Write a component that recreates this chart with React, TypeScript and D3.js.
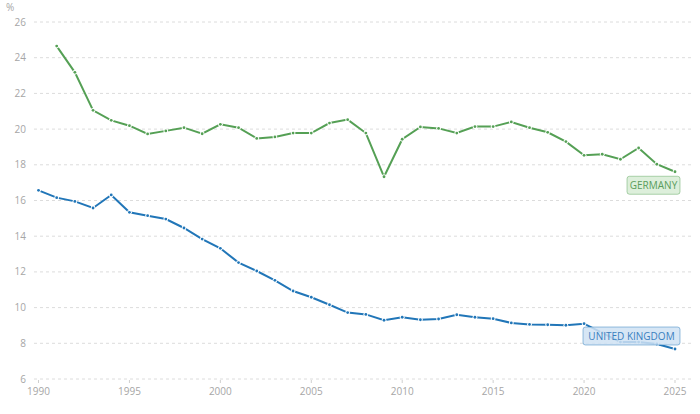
import * as d3 from "d3";
import React from "react";

const years = d3.range(1990, 2026);

// Germany starts in 1991
const germanyYears = d3.range(1991, 2026);
const germanyValues = [
  24.65, 23.18, 21.05, 20.49, 20.19, 19.73, 19.9, 20.08, 19.74, 20.27,
  20.08, 19.48, 19.56, 19.78, 19.78, 20.34, 20.53, 19.78, 17.33, 19.43,
  20.12, 20.04, 19.78, 20.14, 20.14, 20.4, 20.08, 19.82, 19.3, 18.53,
  18.59, 18.31, 18.94, 18.03, 17.61,
];

const ukValues = [
  16.57, 16.16, 15.95, 15.58, 16.31, 15.34, 15.15, 14.96, 14.46, 13.84,
  13.32, 12.52, 12.05, 11.53, 10.93, 10.58, 10.16, 9.72, 9.62, 9.29,
  9.46, 9.32, 9.36, 9.6, 9.46, 9.38, 9.14, 9.06, 9.04, 9.01,
  9.1, 8.58, 8.07, 8.07, 7.96, 7.68,
];

const yTicks = [6, 8, 10, 12, 14, 16, 18, 20, 22, 24, 26];
const xTicks = [1990, 1995, 2000, 2005, 2010, 2015, 2020, 2025];

const GREEN = "#55a055";
const BLUE = "#2176b8";
const FONT = "'Open Sans', 'Noto Sans', sans-serif";

interface Pt {
  year: number;
  value: number;
}

const germany: Pt[] = germanyYears.map((year, i) => ({ year, value: germanyValues[i] }));
const uk: Pt[] = years.map((year, i) => ({ year, value: ukValues[i] }));

const App: React.FC = () => {
  const width = 700;
  const height = 414;

  const x = d3.scaleLinear().domain([1990, 2025]).range([38.5, 675]);
  const y = d3.scaleLinear().domain([6, 26]).range([379, 22]);

  const line = d3
    .line<Pt>()
    .x((d) => x(d.year))
    .y((d) => y(d.value));

  const series = [
    { name: "GERMANY", data: germany, color: GREEN, fill: "#d7ecd5", text: "#5a9c5a", boxW: 53 },
    { name: "UNITED KINGDOM", data: uk, color: BLUE, fill: "#cfe2f3", text: "#3a7fbf", boxW: 97 },
  ];

  return (
    <svg
      width={width}
      height={height}
      style={{ position: "absolute", left: 0, top: 0, background: "#fff", fontFamily: FONT }}
    >
      {/* gridlines */}
      {yTicks.map((t) => (
        <line
          key={t}
          x1={34}
          x2={693}
          y1={y(t)}
          y2={y(t)}
          stroke="#dcdcdc"
          strokeWidth={1}
          strokeDasharray="3,3"
        />
      ))}

      {/* y labels */}
      {yTicks.map((t) => (
        <text key={t} x={26} y={y(t) + 3.5} textAnchor="end" fontSize={10} fill="#a6a6a6">
          {t}
        </text>
      ))}
      <text x={6} y={11} fontSize={10} fill="#a6a6a6">
        %
      </text>

      {/* x ticks */}
      {xTicks.map((t) => (
        <g key={t}>
          <line x1={x(t)} x2={x(t)} y1={380} y2={383} stroke="#cfcfcf" />
          <text x={x(t)} y={395} textAnchor="middle" fontSize={10} fill="#a6a6a6">
            {t}
          </text>
        </g>
      ))}

      {/* lines */}
      {series.map((s) => (
        <g key={s.name}>
          <path d={line(s.data)!} fill="none" stroke={s.color} strokeWidth={2} />
          {s.data.map((d) => (
            <circle key={"h" + d.year} cx={x(d.year)} cy={y(d.value)} r={2.4} fill="#fff" />
          ))}
          {s.data.map((d) => (
            <circle key={"p" + d.year} cx={x(d.year)} cy={y(d.value)} r={1.4} fill={s.color} />
          ))}
        </g>
      ))}

      {/* end labels */}
      {series.map((s) => {
        const last = s.data[s.data.length - 1];
        const right = x(last.year) + 5;
        const top = s.name === "GERMANY" ? y(last.value) + 4.5 : y(last.value) - 22;
        return (
          <g key={"lbl" + s.name}>
            <rect
              x={right - s.boxW}
              y={top}
              width={s.boxW}
              height={18}
              rx={2.5}
              fill={s.fill}
              fillOpacity={0.85}
              stroke={s.color}
              strokeOpacity={0.45}
            />
            <text
              x={right - s.boxW / 2}
              y={top + 12.8}
              textAnchor="middle"
              fontSize={10}
              fill={s.text}
            >
              {s.name}
            </text>
          </g>
        );
      })}
    </svg>
  );
};

export default App;
